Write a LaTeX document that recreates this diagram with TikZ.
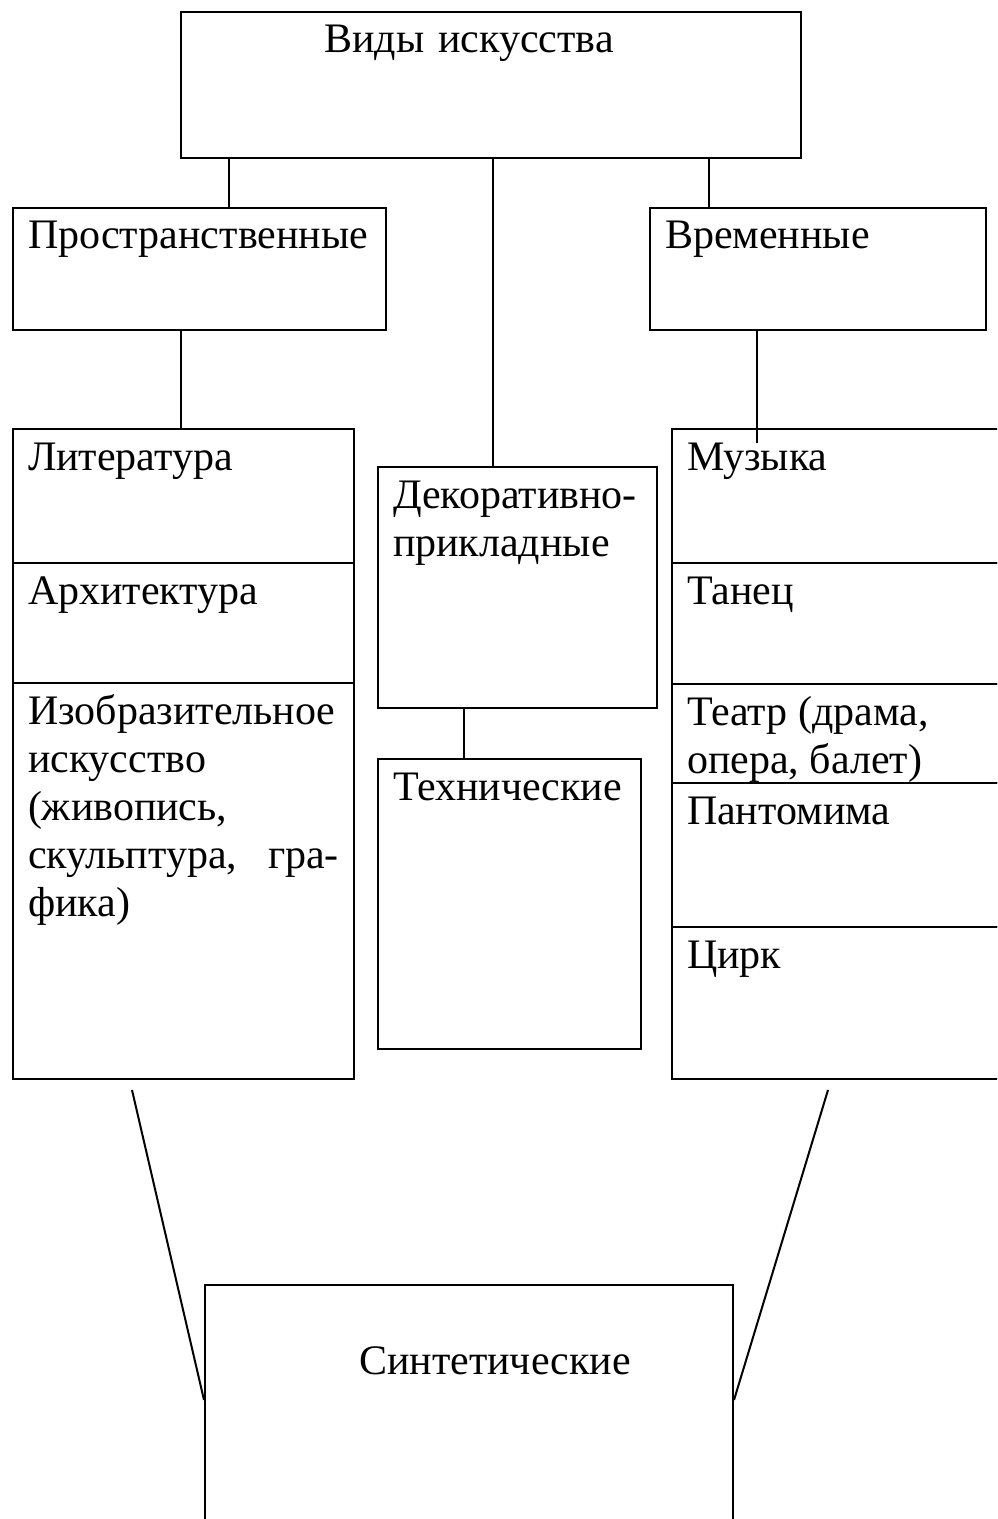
\documentclass[tikz,border=0pt]{standalone}
\usepackage{fontspec}
\setmainfont{Liberation Serif}
\usepackage{tikz}
\usetikzlibrary{positioning, calc}

\begin{document}
\begin{tikzpicture}[
        x=0.5pt, y=-0.5pt,
        cell/.style={rectangle, draw=black, line width=1pt, anchor=north west,
                    inner sep=0pt, align=flush left, text height=20.5pt,
                    font=\fontsize{21}{24}\selectfont},
        link/.style={draw=black, line width=1pt}
    ]
        \useasboundingbox (0,0) rectangle (997,1519);
        \clip (0,0) rectangle (997,1519);

        % Top node
        \node[cell, align=center, minimum width=310pt, minimum height=73pt,
              text width=300pt, text depth=52.5pt] (top) at (180,11) {Виды искусства\kern22pt};

        % Second row
        \node[cell, minimum width=186.5pt, minimum height=61pt,
              text width=171.5pt, text depth=40.5pt] (prostr) at (12,207) {Пространственные};
        \node[cell, minimum width=168pt, minimum height=61pt,
              text width=153pt, text depth=40.5pt] (vrem) at (649,207) {Временные};

        % Left column
        \node[cell, minimum width=170.5pt, minimum height=67pt,
              text width=155.5pt, text depth=46.5pt] (lit) at (12,428) {Литература};
        \node[cell, minimum width=170.5pt, minimum height=60pt,
              text width=155.5pt, text depth=39.5pt] (arch) at (12,562) {Архитектура};
        \node[cell, minimum width=170.5pt, minimum height=198pt,
              text width=155.5pt, text depth=177.5pt] (izo) at (12,682)
              {Изобразительное\\искусство\\(живопись,\\скульптура,\hfill гра-\\фика)};

        % Middle column
        \node[cell, minimum width=139.5pt, minimum height=120.5pt,
              text width=124.5pt, text depth=100pt] (dek) at (377,466) {Декоративно-\\прикладные};
        \node[cell, minimum width=131.5pt, minimum height=145pt,
              text width=116.5pt, text depth=124.5pt] (tech) at (377,758) {Технические};

        % Right column
        \node[cell, minimum width=170pt, minimum height=67pt,
              text width=155pt, text depth=46.5pt] (muz) at (671,428) {Музыка};
        \node[cell, minimum width=170pt, minimum height=60.5pt,
              text width=155pt, text depth=40pt] (tan) at (671,562) {Танец};
        \node[cell, minimum width=170pt, minimum height=49.5pt,
              text width=155pt, text depth=29pt] (teatr) at (671,683) {Театр (драма,\\опера, балет)};
        \node[cell, minimum width=170pt, minimum height=72pt,
              text width=155pt, text depth=51.5pt] (pant) at (671,782) {Пантомима};
        \node[cell, minimum width=170pt, minimum height=76pt,
              text width=155pt, text depth=55.5pt] (cirk) at (671,926) {Цирк};

        % Bottom node
        \node[cell, align=center, minimum width=264pt, minimum height=150pt,
              text width=250pt, text height=44.5pt, text depth=105.5pt] (synth) at (204,1284)
              {\hspace*{26pt}Синтетические};

        % Free ends of the slanted lines
        \coordinate (lfoot) at (132,1090);
        \coordinate (rfoot) at (828,1090);

        % Lines
        \draw[link] ([xshift=-131pt]top.south) -- ([xshift=-131pt]top.south |- prostr.north);
        \draw[link] ([xshift=1pt]top.south) -- ([xshift=1pt]top.south |- dek.north);
        \draw[link] ([xshift=109pt]top.south) -- ([xshift=109pt]top.south |- vrem.north);
        \draw[link] ([xshift=-1.25pt]lit.north |- prostr.south) -- ([xshift=-1.25pt]lit.north);
        \draw[link] ([xshift=-30.5pt]vrem.south) -- ([xshift=-30.5pt]vrem.south |- muz.north) -- ++(0,15);
        \draw[link] ([xshift=-26.75pt]dek.south) -- ([xshift=-26.75pt]dek.south |- tech.north);
        \draw[link] (lfoot) -- ([yshift=-58pt]synth.north west);
        \draw[link] (rfoot) -- ([yshift=-58pt]synth.north east);
    \end{tikzpicture}
\end{document}
